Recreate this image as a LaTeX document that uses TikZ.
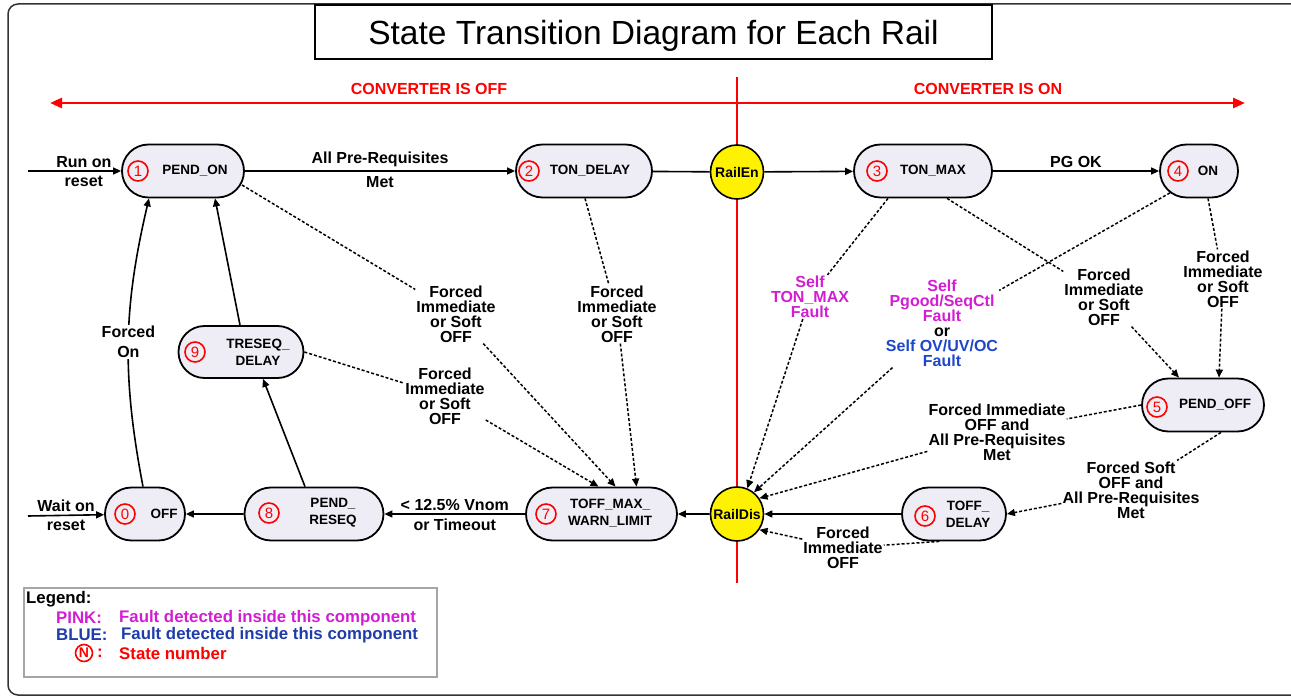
\documentclass[tikz,border=0pt]{standalone}
\usepackage{fontspec}
\setmainfont{Liberation Sans}
\usetikzlibrary{shapes.misc,shapes.geometric,arrows.meta}
\definecolor{statefill}{RGB}{238,237,245}
\definecolor{pinkc}{RGB}{210,30,210}
\definecolor{bluec}{RGB}{30,70,200}
\definecolor{legblue}{RGB}{30,60,170}
\newcommand{\lblfont}{\fontsize{16}{15}\selectfont\bfseries}
\newcommand{\stfont}{\fontsize{13.5}{17}\selectfont\bfseries}
\tikzset{
  state/.style={rounded rectangle, draw, line width=1.8pt, fill=statefill, minimum height=53pt, inner sep=0pt},
  num/.style={circle, draw=red, line width=1.6pt, text=red, minimum size=20pt, inner sep=0pt, font=\fontsize{15}{15}\selectfont},
  sname/.style={align=center, inner sep=0pt, font=\stfont},
  rail/.style={ellipse, draw, line width=1.6pt, fill=yellow, minimum width=53pt, minimum height=54pt, inner sep=0pt, font=\fontsize{14}{14}\selectfont\bfseries},
  lbl/.style={align=center, inner sep=1pt, font=\lblfont},
  leg/.style={anchor=west, inner sep=1pt, font=\fontsize{16.8}{16}\selectfont\bfseries},
  go/.style={line width=1.6pt, -{Triangle[length=8pt,width=7pt]}},
  dsh/.style={line width=1.5pt, dash pattern=on 3pt off 2pt, -{Triangle[length=8pt,width=7pt]}},
  redln/.style={red, line width=2.5pt},
}
\begin{document}
\begin{tikzpicture}[x=1pt,y=-1pt]
  \useasboundingbox (0,0) rectangle (1291,700);
  \draw[line width=1.5pt, black!80, rounded corners=10pt] (8,4) rectangle (1320,695);
  \node[draw, line width=1.3pt, minimum width=677pt, minimum height=54pt, inner sep=0pt, text depth=0pt, font=\fontsize{33.5}{36}\selectfont] (title) at (653.5,32) {State Transition Diagram for Each Rail};

  \coordinate (redtop) at (737,77);
  \coordinate (redbot) at (737,583);
  \coordinate (redmid) at (737,103);
  \coordinate (offend) at (50,103);
  \coordinate (onend) at (1245,103);
  \draw[redln] (redtop) -- (redbot);
  \draw[redln, -{Triangle[length=12pt,width=10pt]}] (redmid) -- (offend);
  \draw[redln, -{Triangle[length=12pt,width=10pt]}] (redmid) -- (onend);
  \node[lbl, text=red] (convoff) at (429,89) {CONVERTER IS OFF};
  \node[lbl, text=red] (convon) at (988,89) {CONVERTER IS ON};

  \node[state, minimum width=80pt] (off) at (145,514) {};
  \node[num] (n0) at (125,514) {0};
  \node[sname] (t0) at (164,514) {OFF};
  \node[state, minimum width=122pt] (pendon) at (183,171) {};
  \node[num] (n1) at (138,171) {1};
  \node[sname] (t1) at (195,171) {PEND\_ON};
  \node[state, minimum width=136pt] (tondelay) at (584,171) {};
  \node[num] (n2) at (529,171) {2};
  \node[sname] (t2) at (590,171) {TON\_DELAY};
  \node[state, minimum width=138pt] (tonmax) at (923,171) {};
  \node[num] (n3) at (877,171) {3};
  \node[sname] (t3) at (933,171) {TON\_MAX};
  \node[state, minimum width=78pt] (on) at (1199,171) {};
  \node[num] (n4) at (1178,171) {4};
  \node[sname] (t4) at (1208,171) {ON};
  \node[state, minimum width=122pt] (pendoff) at (1203,405) {};
  \node[num] (n5) at (1157,407) {5};
  \node[sname] (t5) at (1215,405) {PEND\_OFF};
  \node[state, minimum width=104pt] (toffdelay) at (954,514) {};
  \node[num] (n6) at (925,516) {6};
  \node[sname] (t6) at (968,514) {TOFF\_\\DELAY};
  \node[state, minimum width=151pt] (toffmax) at (601.5,514) {};
  \node[num] (n7) at (546,514) {7};
  \node[sname] (t7) at (610,513) {TOFF\_MAX\_\\WARN\_LIMIT};
  \node[state, minimum width=139pt] (reseq) at (314,514) {};
  \node[num] (n8) at (269,513) {8};
  \node[sname] (t8) at (333,513) {PEND\_\\RESEQ};
  \node[state, minimum width=125pt, minimum height=52pt] (treseq) at (241,352) {};
  \node[num] (n9) at (195,352) {9};
  \node[sname] (t9) at (258,352) {TRESEQ\_\\DELAY};
  \node[rail] (railen) at (737,172) {\makebox[0pt]{RailEn}};
  \node[rail] (raildis) at (737,514) {\makebox[0pt]{RailDis}};

  \coordinate (runon) at (28,171);
  \coordinate (waiton) at (28,516);
  \draw[go] (runon) -- (pendon) node[lbl, pos=.6, above=2pt] (lrun) {Run on} node[lbl, pos=.6, below=3pt] (lrunr) {reset};
  \draw[go] (pendon) -- (tondelay) node[lbl, midway, above=2pt] (lall) {All Pre-Requisites} node[lbl, midway, below=4pt] (lmet) {Met};
  \draw[line width=1.6pt] (tondelay) -- (railen);
  \draw[go] (railen) -- (tonmax);
  \draw[go] (tonmax) -- (on) node[lbl, midway, above=2pt] (lpg) {PG OK};
  \draw[go] (toffdelay) -- (raildis);
  \draw[go] (raildis) -- (toffmax);
  \draw[go] (toffmax) -- (reseq) node[lbl, midway, above=2pt] (lvn) {< 12.5\% Vnom} node[lbl, midway, below=3pt] (lto) {or Timeout};
  \draw[go] (reseq) -- (off);
  \draw[go] (waiton) -- (off) node[lbl, midway, above=2pt] (lwait) {Wait on} node[lbl, midway, below=3pt] (lwaitr) {reset};
  \draw[go] ([xshift=-2pt]off.north) to[bend left=12] node[lbl, fill=white, midway] (lfon) {Forced\\[5pt]On} ([xshift=-34pt]pendon.south);
  \draw[go] ([xshift=-9pt]reseq.north) -- ([xshift=22pt]treseq.south);
  \draw[go] ([xshift=-1pt]treseq.north) -- ([xshift=32pt]pendon.south);

  \node[lbl] (fa) at (456,314) {Forced\\Immediate\\or Soft\\OFF};
  \node[lbl] (fb) at (445,396) {Forced\\Immediate\\or Soft\\OFF};
  \node[lbl] (fc) at (617,314) {Forced\\Immediate\\or Soft\\OFF};
  \node[lbl] (fd) at (1104,297) {Forced\\Immediate\\or Soft\\OFF};
  \node[lbl] (fe) at (1223,279) {Forced\\Immediate\\or Soft\\OFF};
  \node[lbl] (ff) at (997,432) {Forced Immediate\\OFF and\\All Pre-Requisites\\Met};
  \node[lbl] (fg) at (1131,490) {Forced Soft\\OFF and\\All Pre-Requisites\\Met};
  \node[lbl] (fh) at (843,548) {Forced\\Immediate\\OFF};
  \node[lbl, text=pinkc] (fton) at (810,297) {Self\\TON\_MAX\\Fault};
  \node[lbl] (fpg) at (942,323) {\textcolor{pinkc}{Self}\\\textcolor{pinkc}{Pgood/SeqCtl}\\\textcolor{pinkc}{Fault}\\or\\\textcolor{bluec}{Self OV/UV/OC}\\\textcolor{bluec}{Fault}};

  \draw[dsh] ([xshift=59pt,yshift=-14pt]pendon.center) -- (fa) -- ([xshift=14pt]toffmax.north);
  \draw[dsh] (treseq.east) -- (fb) -- ([xshift=-3pt]toffmax.north);
  \draw[dsh] ([xshift=1pt]tondelay.south) -- (fc) -- ([xshift=35pt]toffmax.north);
  \draw[dsh] ([xshift=-35pt]tonmax.south) -- (fton) -- (raildis.68);
  \draw[dsh] (on.217) -- (fpg) -- (raildis.52);
  \draw[dsh] ([xshift=24pt]tonmax.south) -- (fd) -- ([xshift=-24pt]pendoff.north);
  \draw[dsh] ([xshift=9pt]on.south) -- (fe) -- ([xshift=16pt]pendoff.north);
  \draw[dsh] (pendoff.west) -- (ff) -- (raildis.35);
  \draw[dsh] ([xshift=18pt]pendoff.south) -- (fg) -- (toffdelay.east);
  \draw[dsh] (toffdelay.242) -- (fh) -- (raildis.-35);

  \node[draw=black!35, line width=1.5pt, minimum width=413pt, minimum height=89pt] (legend) at (230.5,632.5) {};
  \node[leg] (legtitle) at (25,599) {Legend:};
  \node[leg, text=pinkc] (legpink) at (55,618) {PINK:};
  \node[leg, text=pinkc] (legpinkt) at (118,618) {Fault detected inside this component};
  \node[leg, text=legblue] (legblue) at (55,635) {BLUE:};
  \node[leg, text=legblue] (legbluet) at (120,635) {Fault detected inside this component};
  \node[num, minimum size=17pt, font=\fontsize{14}{14}\selectfont\bfseries] (legn) at (84,653) {N};
  \node[leg, text=red] (legcolon) at (96,653) {:};
  \node[leg, text=red] (legstate) at (118,653) {State number};
\end{tikzpicture}
\end{document}
